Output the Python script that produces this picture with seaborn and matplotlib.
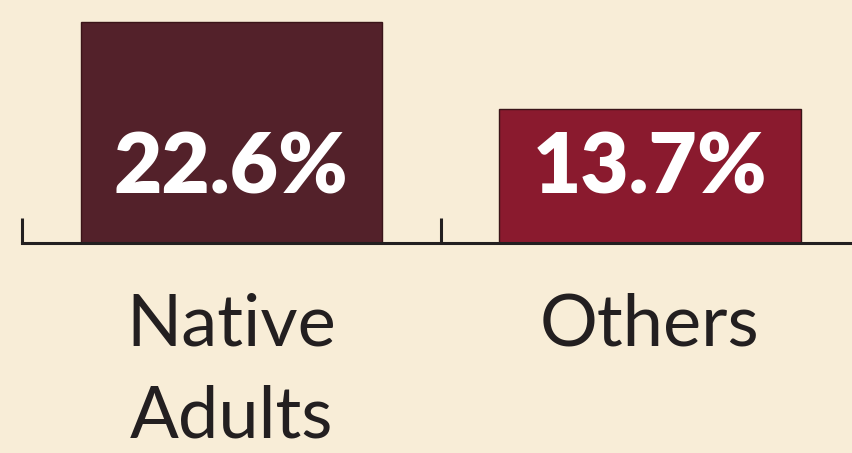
import numpy as np
import pandas as pd
import seaborn as sns
import matplotlib.pyplot as plt

# data
categories = ["Native\nAdults", "Others"]
values = [22.6, 13.7]
value_labels = ["22.6%", "13.7%"]
bar_colors = ["#53212a", "#8a1a2e"]

bg = "#f8edd7"
ink = "#231f20"

sns.set_style("white")
plt.rcParams['font.family'] = ['Lato', 'DejaVu Sans']

fig = plt.figure(figsize=(8.52, 4.53), dpi=100, facecolor=bg)
ax = fig.add_axes([0.0258, 0.4636, 0.9742, 0.5364])
ax.set_facecolor(bg)

df = pd.DataFrame({"group": categories, "pct": values})
sns.barplot(data=df, x="group", y="pct", hue="group", palette=bar_colors,
            legend=False, width=0.72, saturation=1, ax=ax,
            edgecolor="#3a1418", linewidth=1)

ax.set_xlim(-0.5, 1.483)
ax.set_ylim(0, 24.85)

for i, lab in enumerate(value_labels):
    ax.text(i, 7.6, lab, ha="center", va="center", color="white",
            fontsize=60, fontweight="heavy")

# spines / ticks
for s in ["top", "right", "left"]:
    ax.spines[s].set_visible(False)
ax.spines["bottom"].set_linewidth(2.2)
ax.spines["bottom"].set_color(ink)
ax.set_yticks([])
ax.set_xlabel("")
ax.set_ylabel("")

ax.set_xticks([0, 1])
ax.set_xticklabels(categories, fontsize=52, color=ink)
ax.tick_params(axis="x", which="major", length=0, pad=36)
for t in ax.get_xticklabels():
    t.set_linespacing(1.5)
ax.set_xticks([-0.5, 0.5], minor=True)
ax.tick_params(axis="x", which="minor", bottom=True, direction="in",
               length=18, width=2.2, color=ink)
for tl in ax.xaxis.get_minorticklines():
    tl.set_clip_on(False)

fig.savefig("out.png", dpi=100, facecolor=bg)
